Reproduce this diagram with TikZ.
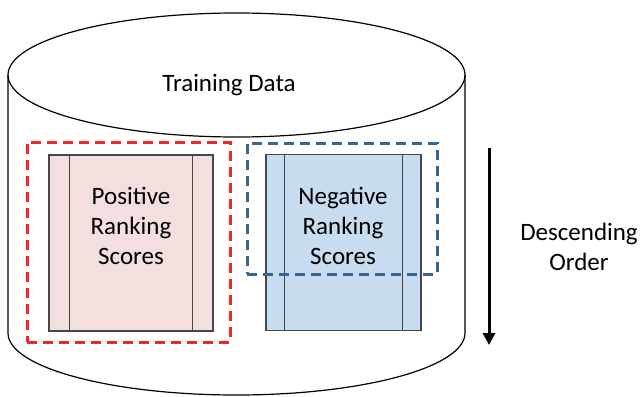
\documentclass[tikz,border=0pt]{standalone}
\usepackage{fontspec}
\setmainfont{Carlito}
\usetikzlibrary{arrows.meta, positioning}

\definecolor{pinkfill}{RGB}{242,223,222}
\definecolor{bluefill}{RGB}{200,220,240}
\definecolor{boxline}{RGB}{70,70,70}
\definecolor{redline}{RGB}{238,40,40}
\definecolor{blueline}{RGB}{55,100,145}

\tikzset{
  scorebox/.style={draw=boxline, line width=0.6pt, minimum width=82pt, minimum height=88pt,
    inner sep=0pt},
  groupbox/.style={line width=1.5pt, dash pattern=on 5pt off 3pt, inner sep=0pt},
  label/.style={font=\fontsize{12.5}{15}\selectfont, align=center}
}

\begin{document}
\begin{tikzpicture}[x=0.5pt, y=-0.5pt]
  \useasboundingbox (0,0) rectangle (641,396);
  % Cylinder
  \draw[line width=0.6pt, fill=white] (8,75) -- (8,333) arc[start angle=180, end angle=0, x radius=228.5, y radius=62] -- (465,75);
  \draw[line width=0.6pt] (236.5,75) ellipse[x radius=228.5, y radius=62];
  \node[label] (data) at (229,85) {Training Data};
  % Score columns
  \node[scorebox, fill=pinkfill] (pos) at (131,243) {};
  \node[scorebox, fill=bluefill, minimum width=77.5pt] (neg) at (343.5,242.5) {};
  \draw[boxline, line width=0.6pt] ([xshift=10.5pt]pos.north west) -- ([xshift=10.5pt]pos.south west);
  \draw[boxline, line width=0.6pt] ([xshift=-10.5pt]pos.north east) -- ([xshift=-10.5pt]pos.south east);
  \draw[boxline, line width=0.6pt] ([xshift=9.5pt]neg.north west) -- ([xshift=9.5pt]neg.south west);
  \draw[boxline, line width=0.6pt] ([xshift=-9.5pt]neg.north east) -- ([xshift=-9.5pt]neg.south east);
  \node[label] (postext) at (131,226) {Positive\\Ranking\\Scores};
  \node[label] (negtext) at (343,226) {Negative\\Ranking\\Scores};
  % Dashed groups
  \node[groupbox, draw=redline, minimum width=101.5pt, minimum height=100pt] (posgroup) at (128.5,242) {};
  \node[groupbox, draw=blueline, minimum width=95pt, minimum height=65.5pt] (neggroup) at (342,208.5) {};
  % Order arrow
  \coordinate (top) at (489,148);
  \coordinate (bottom) at (489,345);
  \draw[line width=1.5pt, -{Triangle[width=6pt, length=6pt]}] (top) -- (bottom);
  \node[label] (order) at (579,247) {Descending\\Order};
\end{tikzpicture}
\end{document}
